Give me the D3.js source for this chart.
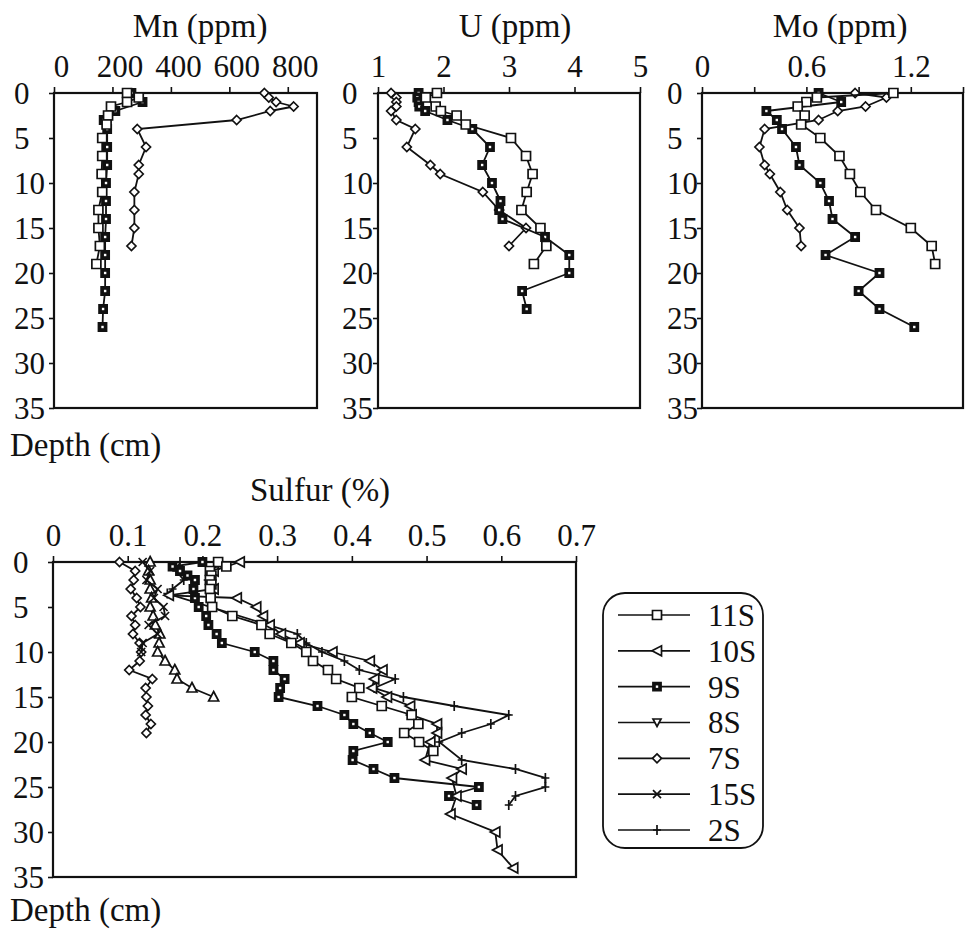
<!DOCTYPE html>
<html>
<head>
<meta charset="utf-8">
<script src="https://cdn.jsdelivr.net/npm/d3@7"></script>
<style>
  body { margin: 0; background: #fff; }
  svg text { font-family: "Liberation Serif", "DejaVu Serif", "Times New Roman", serif; fill: #111; }
</style>
</head>
<body>
<div id="chart"></div>
<script>
// depth (cm) / value pairs

let depthTicks = [0, 5, 10, 15, 20, 25, 30, 35];

// Mn (ppm)
let mnTicks = [0, 200, 400, 600, 800];
let mnTickLabels = ["0", "200", "400", "600", "800"];
let mn11S = [[0,250],[0.5,290],[1,250],[1.5,195],[2.5,185],[3.5,180],[5,165],[7,165],[9,163],[11,165],[13,152],[15,152],[17,157],[19,145]];
let mn9S = [[0,265],[1,303],[2,210],[3,170],[4,182],[6,182],[8,182],[10,178],[12,178],[14,178],[16,175],[18,175],[20,175],[22,175],[24,168],[26,166]];
let mn7S = [[0,720],[0.5,735],[1,760],[1.5,820],[2,740],[3,625],[4,285],[6,315],[8,290],[9,290],[11,275],[13,275],[15,275],[17,265]];

// U (ppm)
let uTicks = [1, 2, 3, 4, 5];
let uTickLabels = ["1", "2", "3", "4", "5"];
let u11S = [[0,1.9],[0.5,1.73],[1.5,1.88],[2,1.96],[2.5,2.2],[3.5,2.34],[5,3.03],[7,3.26],[9,3.36],[11,3.27],[13,3.19],[15,3.48],[17,3.57],[19,3.38]];
let u9S = [[0,1.62],[0.5,1.6],[1,1.62],[1.5,1.63],[2,1.72],[3,2.06],[4,2.44],[6,2.71],[8,2.59],[10,2.74],[12,2.87],[13,2.85],[14,2.9],[16,3.55],[18,3.92],[20,3.92],[22,3.2],[24,3.27]];
let u7S = [[0,1.2],[0.5,1.28],[1,1.28],[1.5,1.28],[2,1.2],[3,1.28],[4,1.57],[6,1.44],[8,1.8],[9,1.95],[11,2.6],[13,2.85],[15,3.26],[17,3.0]];

// Mo (ppm)
let moTicks = [0, 0.3, 0.6, 0.9, 1.2, 1.5];
let moTickLabels = ["0", "", "0.6", "", "1.2", ""];
let mo11S = [[0,1.1],[0.5,0.66],[1,0.6],[1.5,0.55],[2.5,0.59],[3.5,0.57],[5,0.68],[7,0.79],[9,0.85],[11,0.91],[13,1.0],[15,1.2],[17,1.32],[19,1.34]];
let mo9S = [[0,0.67],[1,0.8],[2,0.37],[3,0.43],[4,0.46],[6,0.54],[8,0.56],[10,0.68],[12,0.73],[14,0.75],[16,0.88],[18,0.71],[20,1.02],[22,0.9],[24,1.02],[26,1.22]];
let mo7S = [[0,0.88],[0.5,1.06],[1.5,0.94],[2,0.78],[3,0.67],[4,0.36],[6,0.33],[8,0.36],[9,0.39],[11,0.45],[13,0.49],[15,0.56],[17,0.57]];

// Sulfur (%)
let sTicks = [0, 0.1, 0.2, 0.3, 0.4, 0.5, 0.6, 0.7];
let sTickLabels = ["0", "0.1", "0.2", "0.3", "0.4", "0.5", "0.6", "0.7"];
let s11S = [[0,0.221],[0.5,0.232],[1,0.21],[1.5,0.212],[2,0.21],[2.5,0.212],[3,0.21],[4,0.211],[5,0.213],[6,0.24],[7,0.279],[8,0.29],[9,0.319],[10,0.339],[11,0.348],[12,0.368],[13,0.379],[14,0.41],[15,0.40],[16,0.44],[17,0.48],[18,0.489],[19,0.47],[20,0.49],[21,0.509]];
let s10S = [[0,0.25],[1,0.215],[2,0.21],[3,0.215],[3.7,0.155],[4,0.246],[5,0.272],[6,0.281],[7,0.29],[8,0.305],[9,0.33],[10,0.374],[11,0.424],[12,0.441],[13,0.43],[14,0.427],[15,0.447],[16,0.478],[17,0.48],[18,0.514],[19,0.514],[20,0.505],[22,0.498],[23,0.547],[24,0.534],[26,0.54],[28,0.532],[30,0.592],[32,0.595],[34,0.616]];
let s9S = [[0,0.2],[0.5,0.16],[1,0.17],[1.5,0.18],[2,0.19],[3,0.188],[4,0.19],[5,0.195],[6,0.205],[7,0.208],[8,0.219],[9,0.226],[10,0.27],[11,0.295],[12,0.295],[13,0.31],[14,0.304],[15,0.302],[16,0.354],[17,0.39],[18,0.402],[19,0.424],[20,0.448],[21,0.402],[22,0.401],[23,0.429],[24,0.457],[25,0.57],[26,0.53],[27,0.567]];
let s8S = [[0,0.13],[1,0.128],[2,0.13],[3,0.13],[4,0.132],[5,0.13],[6,0.134],[7,0.137],[8,0.143],[9,0.142],[10,0.14],[11,0.15],[12,0.163],[13,0.166],[14,0.186],[15,0.215]];
let s7S = [[0,0.089],[1,0.11],[2,0.108],[3,0.104],[4,0.112],[5,0.117],[6,0.105],[7,0.11],[8,0.107],[9,0.116],[10,0.118],[11,0.116],[12,0.102],[13,0.133],[14,0.124],[15,0.125],[16,0.127],[17,0.124],[18,0.131],[19,0.125]];
let s15S = [[0,0.12],[1,0.13],[2,0.125],[3,0.14],[4,0.135],[5,0.148],[6,0.15],[7,0.128],[8,0.14],[9,0.12],[10,0.118]];
let s2S = [[0,0.17],[1,0.165],[2,0.175],[3,0.16],[3.5,0.153],[8,0.327],[9,0.339],[10,0.36],[11,0.39],[12,0.41],[13,0.458],[14,0.43],[15,0.469],[16,0.537],[17,0.61],[18,0.586],[19,0.547],[20,0.517],[22,0.547],[23,0.619],[24,0.659],[25,0.659],[26,0.619],[27,0.61]];

let legendNames = ["11S", "10S", "9S", "8S", "7S", "15S", "2S"];
let legendMarks = ["sq", "triL", "sqf", "triD", "dia", "x", "plus"];

// marker shapes, centred on 0,0
let marks = {
    sq:   {d: "M-4.5,-4.5H4.5V4.5H-4.5Z", fill: "#fff"},
    sqf:  {d: "M-4,-4H4V4H-4Z", fill: "#111"},
    triL: {d: "M-5,0L4.5,-5L4.5,5Z", fill: "#fff"},
    triU: {d: "M0,-5.5L5,4L-5,4Z", fill: "#fff"},
    triD: {d: "M0,4L4,-3.5L-4,-3.5Z", fill: "#fff"},
    dia:  {d: "M0,-4.5L4.5,0L0,4.5L-4.5,0Z", fill: "#fff"},
    x:    {d: "M-4,-4L4,4M-4,4L4,-4", fill: "none"},
    plus: {d: "M0,-5V5M-4,0H4", fill: "none"}
};

let serif = '"Liberation Serif", "DejaVu Serif", serif';

let W = 969, H = 938;
let svg = d3.select("#chart").append("svg")
    .attr("width", W)
    .attr("height", H);

function add_mark(g, type, cx, cy) {
    let m = marks[type];
    g.append("path")
        .attr("transform", "translate(" + cx + "," + cy + ")")
        .attr("d", m.d)
        .attr("fill", m.fill)
        .attr("stroke", "#111")
        .attr("stroke-width", type === "sqf" ? 1.8 : 1.7);
    if (type === "sqf") {
        g.append("rect")
            .attr("x", cx - 1.2).attr("y", cy - 1.2)
            .attr("width", 2.4).attr("height", 2.4)
            .attr("fill", "#fff");
    }
}

function draw_panel(p) {
    let x = d3.scaleLinear().domain(p.domain).range([p.left, p.right]);
    let y = d3.scaleLinear().domain([0, 35]).range([p.top, p.bottom]);
    let g = svg.append("g");

    // title
    g.append("text")
        .attr("x", p.titleX).attr("y", p.titleY)
        .attr("text-anchor", "middle")
        .attr("font-family", serif)
        .style("font-size", "33px")
        .text(p.title);

    // top axis
    let ax = g.append("g")
        .attr("transform", "translate(0," + p.top + ")")
        .call(d3.axisTop(x)
            .tickValues(p.ticks)
            .tickSize(6)
            .tickPadding(10)
            .tickFormat(function (d, i) { return p.labels[i]; }));
    ax.attr("font-family", serif);
    ax.select(".domain").remove();
    ax.selectAll("line").attr("stroke", "#111").attr("stroke-width", 1.6);
    ax.selectAll("text")
        .style("font-size", "31px")
        .attr("fill", "#111")
        .attr("dx", p.labelShift || 0);

    // left axis
    let ay = g.append("g")
        .attr("transform", "translate(" + p.left + ",0)")
        .call(d3.axisLeft(y).tickValues(depthTicks).tickSize(5));
    ay.attr("font-family", serif);
    ay.select(".domain").remove();
    ay.selectAll("line").attr("stroke", "#111").attr("stroke-width", 1.6);
    ay.selectAll("text")
        .style("font-size", "31px")
        .attr("fill", "#111")
        .attr("text-anchor", "start")
        .attr("x", -p.labelGap)
        .attr("dy", "0.34em");

    // frame
    g.append("rect")
        .attr("x", p.left).attr("y", p.top)
        .attr("width", p.right - p.left).attr("height", p.bottom - p.top)
        .attr("fill", "none")
        .attr("stroke", "#111")
        .attr("stroke-width", 2.2);

    let line = d3.line()
        .x(function (d) { return x(d[1]); })
        .y(function (d) { return y(d[0]); });

    p.series.forEach(function (s) {
        g.append("path")
            .datum(s.data)
            .attr("d", line)
            .attr("fill", "none")
            .attr("stroke", "#111")
            .attr("stroke-width", 1.8);
        s.data.forEach(function (d) {
            add_mark(g, s.mark, x(d[1]), y(d[0]));
        });
    });
}

draw_panel({
    title: "Mn (ppm)", titleX: 200, titleY: 37,
    left: 54, right: 317, top: 93, bottom: 408, labelGap: 40, labelShift: 7,
    domain: [0, 900], ticks: mnTicks, labels: mnTickLabels,
    series: [
        {data: mn7S, mark: "dia"},
        {data: mn9S, mark: "sqf"},
        {data: mn11S, mark: "sq"}
    ]
});

draw_panel({
    title: "U (ppm)", titleX: 515, titleY: 37,
    left: 378, right: 640, top: 93, bottom: 408, labelGap: 36,
    domain: [1, 5], ticks: uTicks, labels: uTickLabels,
    series: [
        {data: u7S, mark: "dia"},
        {data: u9S, mark: "sqf"},
        {data: u11S, mark: "sq"}
    ]
});

draw_panel({
    title: "Mo (ppm)", titleX: 840, titleY: 37,
    left: 702, right: 963, top: 93, bottom: 408, labelGap: 35,
    domain: [0, 1.5], ticks: moTicks, labels: moTickLabels,
    series: [
        {data: mo7S, mark: "dia"},
        {data: mo9S, mark: "sqf"},
        {data: mo11S, mark: "sq"}
    ]
});

draw_panel({
    title: "Sulfur (%)", titleX: 320, titleY: 501,
    left: 53, right: 576, top: 562, bottom: 877, labelGap: 40,
    domain: [0, 0.7], ticks: sTicks, labels: sTickLabels,
    series: [
        {data: s7S, mark: "dia"},
        {data: s8S, mark: "triU"},
        {data: s15S, mark: "x"},
        {data: s2S, mark: "plus"},
        {data: s9S, mark: "sqf"},
        {data: s10S, mark: "triL"},
        {data: s11S, mark: "sq"}
    ]
});

// axis labels under the panels
svg.append("text").attr("x", 10).attr("y", 456).attr("font-family", serif).style("font-size", "33px").text("Depth (cm)");
svg.append("text").attr("x", 10).attr("y", 921).attr("font-family", serif).style("font-size", "33px").text("Depth (cm)");

// legend
let lg = svg.append("g");
lg.append("rect")
    .attr("x", 603).attr("y", 593)
    .attr("width", 160).attr("height", 255)
    .attr("rx", 22)
    .attr("fill", "#fff")
    .attr("stroke", "#111")
    .attr("stroke-width", 1.8);

let rowY = d3.scalePoint().domain(legendNames).range([615, 830]);
legendNames.forEach(function (n, i) {
    let yy = rowY(n);
    lg.append("line")
        .attr("x1", 618).attr("x2", 690)
        .attr("y1", yy).attr("y2", yy)
        .attr("stroke", "#111").attr("stroke-width", 1.6);
    add_mark(lg, legendMarks[i], 657, yy);
    lg.append("text")
        .attr("x", 708).attr("y", yy)
        .attr("dy", "0.35em")
        .attr("font-family", serif)
        .style("font-size", "31px")
        .text(n);
});
</script>
</body>
</html>
